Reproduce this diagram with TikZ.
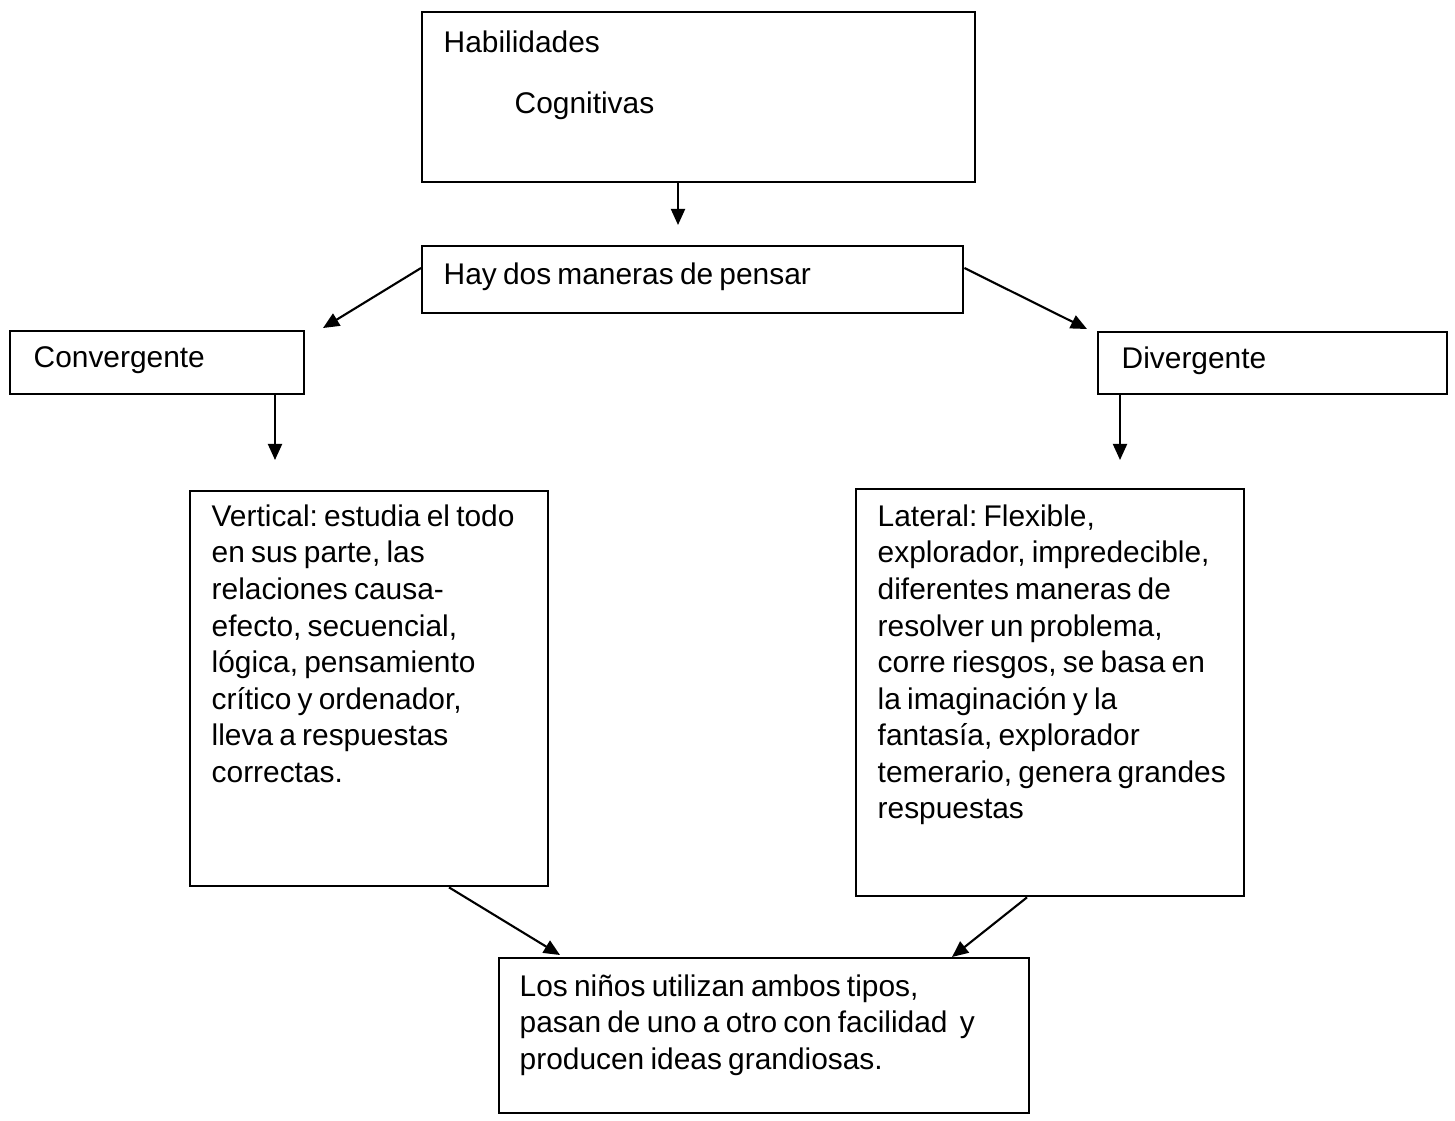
\documentclass[tikz,border=0pt]{standalone}
\usepackage{fontspec}
\setmainfont[WordSpace=0.75]{Liberation Sans}
\frenchspacing
\usetikzlibrary{arrows.meta}

\tikzset{
  box/.style={draw=black, line width=0.6pt, anchor=north west, inner sep=0pt},
  txt/.style={anchor=north west, align=left, inner sep=0pt,
    font=\fontsize{8.5}{10.4}\selectfont},
  arr/.style={-{Triangle[length=4.6pt,width=4pt]}, line width=0.6pt}
}

\begin{document}
\begin{tikzpicture}[x=0.01cm, y=-0.01cm]
        \useasboundingbox (0,0) rectangle (1455,1120);

        % boxes
        \node[box, minimum width=5.53cm, minimum height=1.70cm] (hab) at (421,11) {};
        \node[box, minimum width=5.41cm, minimum height=0.67cm] (pensar) at (421,245) {};
        \node[box, minimum width=2.94cm, minimum height=0.63cm] (conv) at (9,330) {};
        \node[box, minimum width=3.49cm, minimum height=0.62cm] (div) at (1097,331) {};
        \node[box, minimum width=3.58cm, minimum height=3.95cm] (vert) at (189,490) {};
        \node[box, minimum width=3.88cm, minimum height=4.07cm] (lat) at (855,488) {};
        \node[box, minimum width=5.30cm, minimum height=1.55cm] (ninos) at (498,957) {};

        % texts
        \node[txt] (habT) at (443,30) {Habilidades};
        \node[txt] (cogT) at (514,91) {Cognitivas};
        \node[txt] (pensarT) at (443,262) {Hay dos maneras de pensar};
        \node[txt] (convT) at (33,346) {Convergente};
        \node[txt] (divT) at (1121,346) {Divergente};
        \node[txt] (vertT) at (211,504) {Vertical: estudia el todo\\en sus parte, las\\relaciones causa-\\efecto, secuencial,\\lógica, pensamiento\\crítico y ordenador,\\lleva a respuestas\\correctas.};
        \node[txt] (latT) at (877,504) {Lateral: Flexible,\\explorador, impredecible,\\diferentes maneras de\\resolver un problema,\\corre riesgos, se basa en\\la imaginación y la\\fantasía, explorador\\temerario, genera grandes\\respuestas};
        \node[txt] (ninosT) at (519,974) {Los niños utilizan ambos tipos,\\pasan de uno a otro con facilidad\ \ y\\producen ideas grandiosas.};

        % arrows
        \coordinate (a1) at (678,225);
        \coordinate (a2) at (323,328);
        \coordinate (a3) at (1087,329);
        \coordinate (a4) at (275,460);
        \coordinate (a5) at (1120,460);
        \coordinate (a6) at (560,955);
        \coordinate (a7) at (952,957);

        \draw[arr] (hab.south -| a1) -- (a1);
        \draw[arr] (pensar.west |- 0,268) -- (a2);
        \draw[arr] (pensar.east |- 0,268) -- (a3);
        \draw[arr] (conv.south -| a4) -- (a4);
        \draw[arr] (div.south -| a5) -- (a5);
        \draw[arr] (vert.south -| 449,0) -- (a6);
        \draw[arr] (lat.south -| 1027,0) -- (a7);

\end{tikzpicture}
\end{document}
